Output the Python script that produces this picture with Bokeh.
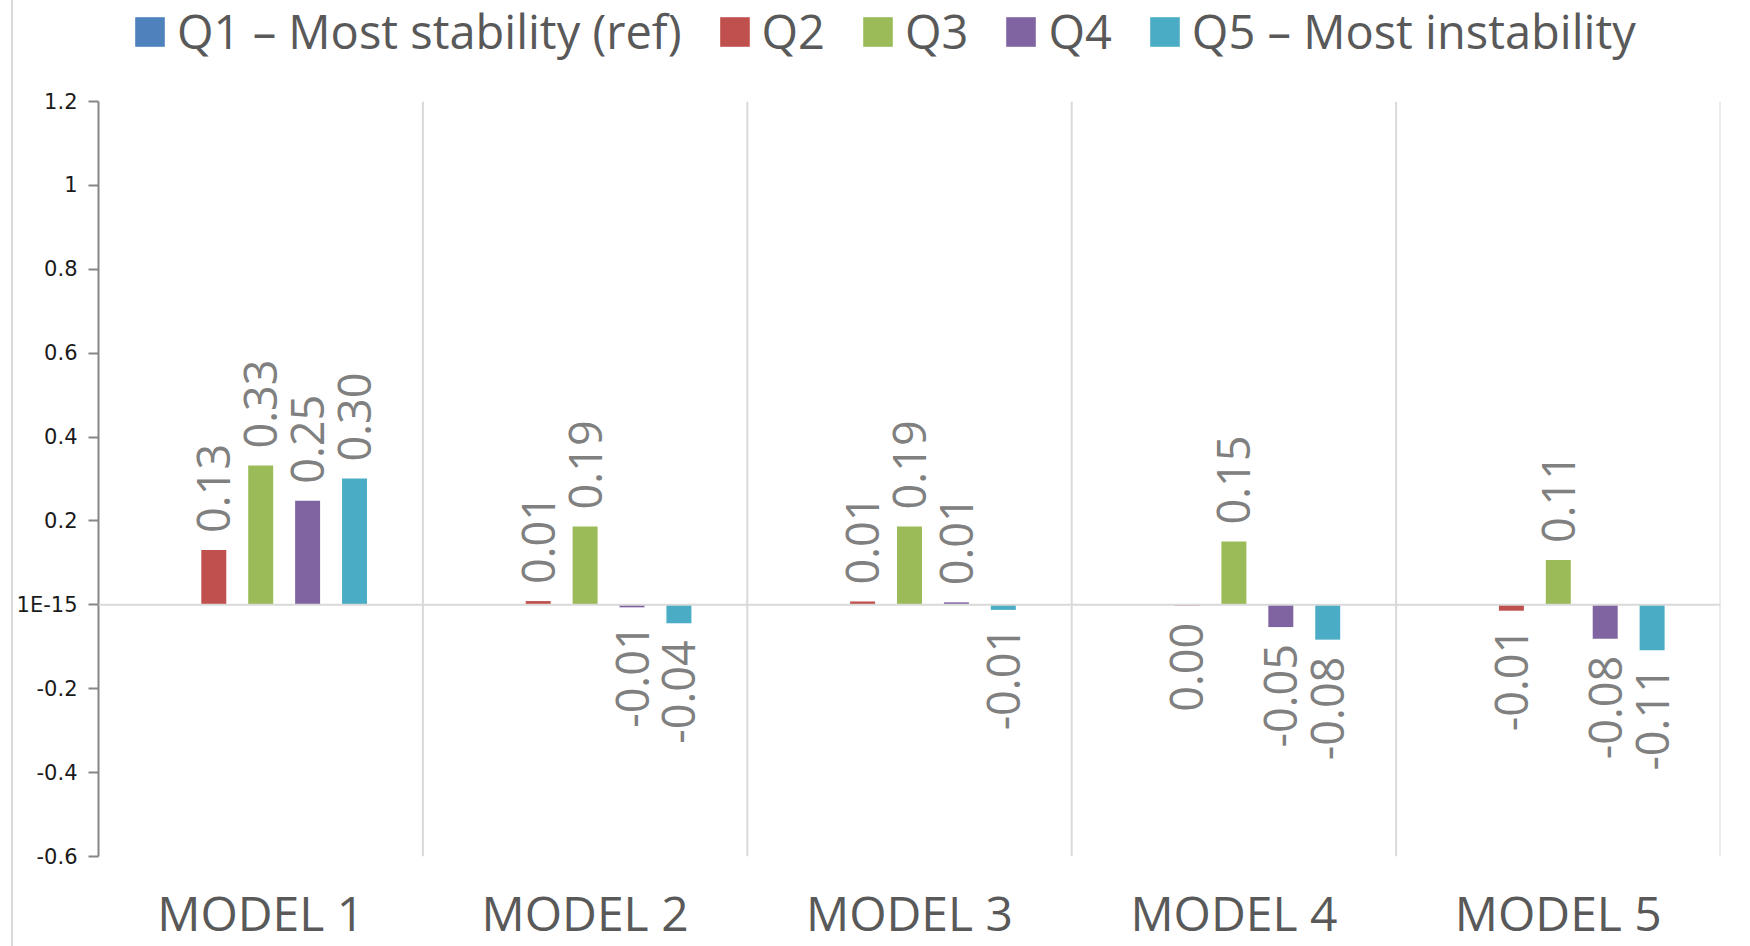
import numpy as np
from bokeh.plotting import figure
from bokeh.layouts import column
from bokeh.models import (ColumnDataSource, FactorRange, Range1d, Span, Legend,
                          LegendItem, FixedTicker)
from bokeh.transform import dodge
from bokeh.core.properties import value
from bokeh.embed import file_html
from bokeh.resources import INLINE

# --- data -------------------------------------------------------------
models = ["MODEL 1", "MODEL 2", "MODEL 3", "MODEL 4", "MODEL 5"]
series_names = ["Q1 \u2013 Most stability (ref)", "Q2", "Q3", "Q4",
                "Q5 \u2013 Most instability"]
series_colors = ["#4F81BD", "#C0504D", "#9BBB59", "#8064A2", "#4BACC6"]

q1 = [0.0, 0.0, 0.0, 0.0, 0.0]
q2 = [0.131, 0.009, 0.008, -0.002, -0.014]
q3 = [0.332, 0.187, 0.187, 0.151, 0.107]
q4 = [0.248, -0.006, 0.006, -0.053, -0.081]
q5 = [0.301, -0.044, -0.012, -0.083, -0.108]
series_values = [q1, q2, q3, q4, q5]
labelled = [False, True, True, True, True]   # reference group carries no labels

y_ticks = [-0.6, -0.4, -0.2, 0.0, 0.2, 0.4, 0.6, 0.8, 1.0, 1.2]
y_tick_labels = ["-0.6", "-0.4", "-0.2", "1E-15", "0.2", "0.4", "0.6",
                 "0.8", "1", "1.2"]

# --- layout constants -------------------------------------------------
W = 1737            # canvas width (page offset of 13 px for the left rule)
LEGEND_H = 89       # strip holding the legend
CAT_H = 78          # strip holding the category names
MAIN_H = 946 - LEGEND_H - CAT_H
BORDER_L, BORDER_R = 82, 30
step = 0.1446       # distance between neighbouring bars within a group
bar_w = 0.077
label_gap = 17      # px between a bar end and its value label
GRID = "#d9d9d9"
TEXT_GREY = "#595959"


def fmt(v):
    s = f"{v:.2f}"
    return "0.00" if s == "-0.00" else s


x_range = FactorRange(*models, range_padding=0)

p = figure(
    x_range=x_range, y_range=Range1d(-0.6, 1.2),
    width=W, height=MAIN_H,
    output_backend="svg", toolbar_location=None,
    min_border_left=BORDER_L, min_border_right=BORDER_R,
    min_border_top=12, min_border_bottom=12,
)
p.outline_line_color = None
p.background_fill_color = "white"
p.border_fill_color = "white"
p.grid.visible = False
p.xaxis.visible = False

# y axis
p.yaxis.ticker = FixedTicker(ticks=y_ticks)
p.yaxis.major_label_overrides = {t: l for t, l in zip(y_ticks, y_tick_labels)}
p.yaxis.minor_tick_line_color = None
p.yaxis.axis_line_color = "#868686"
p.yaxis.axis_line_width = 2
p.yaxis.major_tick_line_color = "#868686"
p.yaxis.major_tick_line_width = 2
p.yaxis.major_tick_out = 10
p.yaxis.major_tick_in = 0
p.yaxis.major_label_standoff = 11
p.yaxis.major_label_text_font = "DejaVu Sans"
p.yaxis.major_label_text_font_size = "21px"
p.yaxis.major_label_text_color = "#1a1a1a"

# group separators and zero line
for i in range(1, len(models) + 1):
    p.add_layout(Span(location=i, dimension="height", line_color=GRID,
                      line_width=2))
p.add_layout(Span(location=0, dimension="width", line_color=GRID, line_width=2))

for k, (name, col, vals, lab) in enumerate(zip(series_names, series_colors,
                                                series_values, labelled)):
    off = (k - 2) * step
    src = ColumnDataSource(dict(model=models, v=vals))
    p.vbar(x=dodge("model", off, range=x_range), top="v", bottom=0,
           width=bar_w, source=src, fill_color=col, line_color=None)
    if not lab:
        continue
    pos = [(m, v) for m, v in zip(models, vals) if v >= 0]
    neg = [(m, v) for m, v in zip(models, vals) if v < 0]
    for subset, align, yoff in ((pos, "left", -label_gap),
                                (neg, "right", label_gap)):
        if not subset:
            continue
        s = ColumnDataSource(dict(model=[m for m, _ in subset],
                                  v=[v for _, v in subset],
                                  label=[fmt(v) for _, v in subset]))
        p.text(x=dodge("model", off, range=x_range), y="v", text="label",
               source=s, angle=np.pi / 2, text_align=align,
               text_baseline="middle", y_offset=yoff,
               text_font=value("Open Sans"), text_font_size="45px",
               text_color="#808080")

# --- category names strip (shares the x scale of the chart) -----------
cat = figure(x_range=x_range, y_range=Range1d(0, CAT_H), width=W, height=CAT_H,
             output_backend="svg", toolbar_location=None,
             x_axis_location=None, y_axis_location=None,
             min_border_left=BORDER_L, min_border_right=BORDER_R,
             min_border_top=0, min_border_bottom=0)
cat.grid.visible = False
cat.outline_line_color = None
cat.border_fill_color = "white"
cat.text(x=models, y=[34] * len(models), text=models, text_align="center",
         text_baseline="middle", text_font=value("Open Sans"),
         text_font_size="48px", text_color=TEXT_GREY)

# --- legend strip above the chart -------------------------------------
lg = figure(width=W, height=LEGEND_H, output_backend="svg",
            toolbar_location=None, x_range=Range1d(0, 1), y_range=Range1d(0, 1),
            x_axis_location=None, y_axis_location=None, min_border=0)
lg.grid.visible = False
lg.outline_line_color = None
lg.border_fill_color = "white"
items = []
for name, col in zip(series_names, series_colors):
    r = lg.vbar(x=[0.5], top=[0.0], bottom=[0.0], width=0.01,
                fill_color=col, line_color=None)
    items.append(LegendItem(label=name, renderers=[r]))

legend = Legend(items=items, orientation="horizontal", location=(33, 26))
legend.label_text_font = "Open Sans"
legend.label_text_font_size = "47px"
legend.label_text_color = TEXT_GREY
legend.glyph_width = 37
legend.glyph_height = 37
legend.label_standoff = 9
legend.spacing = 34
legend.padding = 0
legend.margin = 0
legend.border_line_color = None
legend.background_fill_alpha = 0
lg.add_layout(legend, "center")

page = column(lg, p, cat, spacing=0,
              styles={"margin-left": "11px", "border-left": "2px solid #d9d9d9"})

open("out.html", "w").write(file_html(page, INLINE))
